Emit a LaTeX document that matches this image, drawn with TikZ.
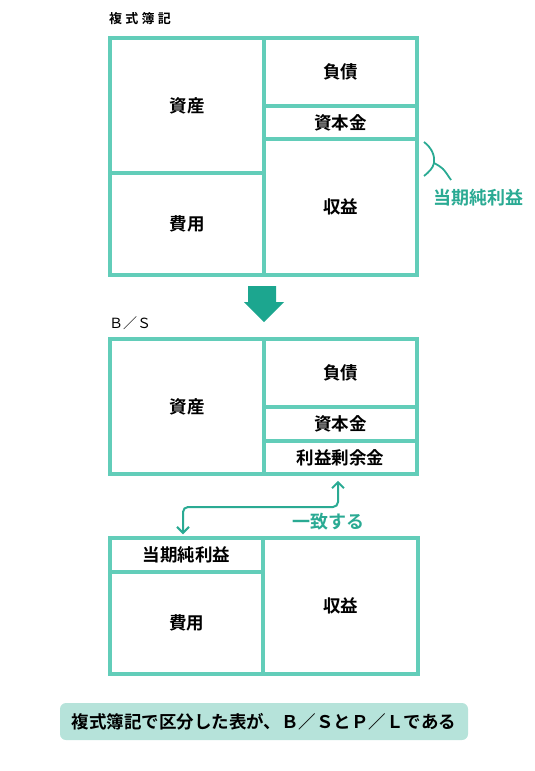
\documentclass[tikz,border=0pt]{standalone}
\usepackage{fontspec}
\setmainfont{Noto Sans CJK JP}[BoldFont={Noto Sans CJK JP Bold}]
\usetikzlibrary{arrows.meta}
\definecolor{boxline}{HTML}{62CDB9}
\definecolor{darkteal}{HTML}{1CA68F}
\definecolor{tealtext}{HTML}{2AAA93}
\definecolor{captionfill}{HTML}{B6E3DA}
\tikzset{
  cell/.style={draw=boxline, line width=3.5pt, inner sep=0pt, font=\fontsize{17.5}{17.5}\selectfont\bfseries},
  heading/.style={inner sep=0pt, anchor=west},
  teallabel/.style={text=tealtext, inner sep=0pt, font=\fontsize{18}{18}\selectfont\bfseries},
  conn/.style={draw=tealtext, line width=2pt},
  caption/.style={fill=captionfill, rounded corners=6pt, minimum width=408, minimum height=37, inner sep=0pt, font=\fontsize{17.5}{17.5}\selectfont\bfseries}
}
\begin{document}
\begin{tikzpicture}[x=1pt,y=-1pt]
\useasboundingbox (0,0) rectangle (535,771);
% title
\node[heading, font=\fontsize{13}{13}\selectfont\bfseries\addfontfeatures{LetterSpace=25}] (title) at (109,19) {複式簿記};
% top box
\node[cell, minimum width=154, minimum height=135] (A1) at (187,105.5) {資産};
\node[cell, minimum width=154, minimum height=102] (E1) at (187,224) {費用};
\node[cell, minimum width=153, minimum height=68] (L1) at (340.5,72) {負債};
\node[cell, minimum width=153, minimum height=33] (C1) at (340.5,122.5) {資本金};
\node[cell, minimum width=153, minimum height=136] (R1) at (340.5,207) {収益};
% brace and label
\coordinate (bj) at (434,163);
\coordinate (bt) at (451,180);
\draw[draw=tealtext, line width=1.8pt] (424,142) .. controls (432,148) and (435,156) .. (bj) .. controls (433,168) and (429,172) .. (424,176);
\node[teallabel] (np1) at (478,198) {当期純利益};
\draw[draw=tealtext, line width=1.8pt] (bj) .. controls (443,168) .. (bt);
% big arrow
\fill[darkteal] (248,286) -- (276,286) -- (276,302) -- (284,302) -- (264,322) -- (244,302) -- (248,302) -- cycle;
% B/S
\node[heading, font=\fontsize{14}{14}\selectfont] (bs) at (109,323) {Ｂ／Ｓ};
% middle box
\node[cell, minimum width=154, minimum height=135] (A2) at (187,406.5) {資産};
\node[cell, minimum width=153, minimum height=68] (L2) at (340.5,373) {負債};
\node[cell, minimum width=153, minimum height=34] (C2) at (340.5,424) {資本金};
\node[cell, minimum width=153, minimum height=33] (RE2) at (340.5,457.5) {利益剰余金};
% bottom box
\node[cell, minimum width=153, minimum height=34] (N3) at (186.5,555) {当期純利益};
\node[cell, minimum width=153, minimum height=102] (E3) at (186.5,623) {費用};
\node[cell, minimum width=155, minimum height=136] (R3) at (340.5,606) {収益};
% connector
\coordinate (mid) at (300,507);
\draw[conn, rounded corners=5pt, {Straight Barb[length=6pt,width=12pt]}-{Straight Barb[length=6pt,width=12pt]}, shorten <=2pt, shorten >=5pt]
  ([xshift=-3.5pt]N3.north) |- (mid) -| ([xshift=-2.5pt]RE2.south);
\node[teallabel] (agree) at (328,522) {一致する};
% caption
\node[caption] (cap) at (264,721.5) {複式簿記で区分した表が、Ｂ／ＳとＰ／Ｌである};
\end{tikzpicture}
\end{document}
